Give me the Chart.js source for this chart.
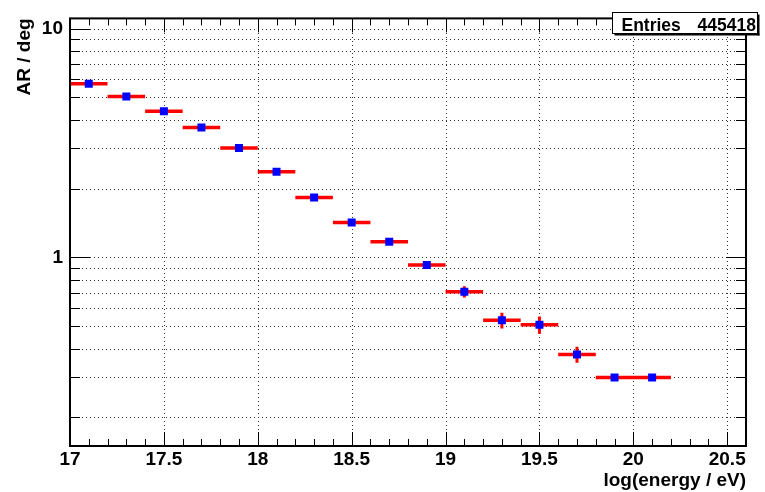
<!DOCTYPE html>
<html><head><meta charset="utf-8">
<script src="https://cdn.jsdelivr.net/npm/chart.js@4.4.1/dist/chart.umd.min.js"></script>
<style>html,body{margin:0;padding:0;background:#fff;} canvas{display:block;}</style>
</head><body>
<canvas id="c" width="765" height="492"></canvas>
<script>
// ---- data ----
const binCenters   = [17.1, 17.3, 17.5, 17.7, 17.9, 18.1, 18.3, 18.5, 18.7, 18.9, 19.1, 19.3, 19.5, 19.7, 19.9, 20.1];
const binHalfWidth = [0.1, 0.1, 0.1, 0.1, 0.1, 0.1, 0.1, 0.1, 0.1, 0.1, 0.1, 0.1, 0.1, 0.1, 0.1, 0.1];
const arValues     = [5.74, 5.05, 4.35, 3.70, 3.01, 2.37, 1.83, 1.42, 1.17, 0.927, 0.708, 0.531, 0.508, 0.377, 0.299, 0.299];
const arErrors     = [0.06, 0.05, 0.04, 0.035, 0.03, 0.025, 0.02, 0.016, 0.014, 0.012, 0.04, 0.042, 0.044, 0.03, 0.008, 0.008];
const xTickLabels  = [17, 17.5, 18, 18.5, 19, 19.5, 20, 20.5];
const yGridValues  = [0.2, 0.3, 0.4, 0.5, 0.6, 0.7, 0.8, 0.9, 1, 2, 3, 4, 5, 6, 7, 8, 9, 10];
const yTickLabels  = [1, 10];
const statLabel    = 'Entries';
const statValue    = 445418;

const FONT = '"Liberation Sans", Arial, Helvetica, sans-serif';

// build series for the library
const xErrData = [];
const yErrData = [];
const pointData = [];
binCenters.forEach((c, i) => {
  const v = arValues[i], e = arErrors[i], h = binHalfWidth[i];
  xErrData.push({x: c - h, y: v}, {x: c + h, y: v}, {x: c + h, y: null});
  yErrData.push({x: c, y: v - e}, {x: c, y: v + e}, {x: c, y: null});
  pointData.push({x: c, y: v});
});

const rootGrid = {
  id: 'rootGrid',
  beforeDatasetsDraw(chart) {
    const {ctx, chartArea: a, scales: {x, y}} = chart;
    ctx.save();
    ctx.strokeStyle = '#333';
    ctx.lineWidth = 1;
    ctx.setLineDash([1, 3]);
    ctx.beginPath();
    xTickLabels.forEach(v => {
      const px = Math.round(x.getPixelForValue(v)) + 0.5;
      if (px <= a.left + 1 || px >= a.right - 1) return;
      ctx.moveTo(px, a.bottom); ctx.lineTo(px, a.top);
    });
    yGridValues.forEach(v => {
      const py = Math.round(y.getPixelForValue(v)) + 0.5;
      ctx.moveTo(a.left, py); ctx.lineTo(a.right, py);
    });
    ctx.stroke();
    ctx.restore();
  }
};

const rootFrame = {
  id: 'rootFrame',
  afterDatasetsDraw(chart) {
    const {ctx, chartArea: a, scales: {x, y}} = chart;
    ctx.save();
    ctx.strokeStyle = '#000';
    ctx.lineWidth = 1;
    ctx.beginPath();
    // x ticks (every 0.1), inward on bottom and top
    for (let i = 0; ; i++) {
      const v = x.min + i * 0.1;
      if (v > x.max + 1e-9) break;
      const px = Math.round(x.getPixelForValue(v)) + 0.5;
      const major = Math.abs(v * 2 - Math.round(v * 2)) < 1e-6;
      const len = major ? 14 : 7;
      ctx.moveTo(px, a.bottom); ctx.lineTo(px, a.bottom - len);
      ctx.moveTo(px, a.top); ctx.lineTo(px, a.top + len);
    }
    // y ticks, inward on left and right
    yGridValues.forEach(v => {
      const py = Math.round(y.getPixelForValue(v)) + 0.5;
      const len = yTickLabels.includes(v) ? 20 : 10;
      ctx.moveTo(a.left, py); ctx.lineTo(a.left + len, py);
      ctx.moveTo(a.right, py); ctx.lineTo(a.right - len, py);
    });
    ctx.stroke();
    // frame
    ctx.lineWidth = 2;
    ctx.strokeRect(a.left, a.top, a.right - a.left, a.bottom - a.top);

    // stat box
    const bx = 612.5, by = 12.5, bw = 145, bh = 21;
    ctx.fillStyle = '#fff';
    ctx.fillRect(bx, by, bw, bh);
    ctx.fillStyle = '#000';
    ctx.fillRect(bx + bw, by + 2, 2, bh);
    ctx.fillRect(bx + 2, by + bh, bw, 2);
    ctx.lineWidth = 1;
    ctx.strokeRect(bx, by, bw, bh);
    ctx.font = 'bold 17.5px ' + FONT;
    ctx.textBaseline = 'alphabetic';
    ctx.textAlign = 'left';
    ctx.fillText(statLabel, 621.5, 30.5);
    ctx.textAlign = 'right';
    ctx.fillText(String(statValue), 756, 30.5);
    ctx.restore();
  }
};

new Chart(document.getElementById('c'), {
  data: {
    datasets: [
      {
        type: 'scatter',
        data: pointData,
        order: 0,
        pointStyle: 'rect',
        pointRadius: 5.66,
        pointBackgroundColor: '#0000ff',
        pointBorderColor: '#0000ff',
        pointBorderWidth: 0,
        showLine: false
      },
      {
        type: 'line',
        data: yErrData,
        order: 1,
        borderColor: '#ff0000',
        borderWidth: 3,
        borderCapStyle: 'butt',
        pointRadius: 0,
        spanGaps: false,
        fill: false
      },
      {
        type: 'line',
        data: xErrData,
        order: 2,
        borderColor: '#ff0000',
        borderWidth: 3.5,
        borderCapStyle: 'butt',
        pointRadius: 0,
        spanGaps: false,
        fill: false
      }
    ]
  },
  options: {
    responsive: false,
    animation: false,
    devicePixelRatio: 1,
    layout: {padding: {top: 13, right: 19, bottom: 0, left: 0}},
    plugins: {legend: {display: false}, tooltip: {enabled: false}},
    events: [],
    scales: {
      x: {
        type: 'linear',
        position: 'bottom',
        min: 17,
        max: 20.6,
        afterBuildTicks: s => { s.ticks = xTickLabels.map(v => ({value: v})); },
        afterFit: s => { s.height = 46; },
        ticks: {
          autoSkip: false,
          maxRotation: 0,
          padding: 2,
          color: '#000',
          font: {family: FONT, size: 19, weight: 'bold'},
          callback: v => String(v)
        },
        grid: {display: false, drawTicks: false},
        border: {display: false},
        title: {
          display: true,
          text: 'log(energy / eV)',
          align: 'end',
          color: '#000',
          font: {family: FONT, size: 19, weight: 'bold'},
          padding: {top: 0, bottom: 0}
        }
      },
      y: {
        type: 'logarithmic',
        position: 'left',
        min: 0.15,
        max: 11.08,
        afterBuildTicks: s => { s.ticks = yGridValues.map(v => ({value: v})); },
        afterFit: s => { s.width = 70; },
        ticks: {
          autoSkip: false,
          padding: 7,
          color: '#000',
          font: {family: FONT, size: 19, weight: 'bold'},
          callback: v => (yTickLabels.includes(v) ? String(v) : '')
        },
        grid: {display: false, drawTicks: false},
        border: {display: false},
        title: {
          display: true,
          text: 'AR / deg',
          align: 'end',
          color: '#000',
          font: {family: FONT, size: 19, weight: 'bold'},
          padding: {top: 13, bottom: 0}
        }
      }
    }
  },
  plugins: [rootGrid, rootFrame]
});
</script>
</body></html>
